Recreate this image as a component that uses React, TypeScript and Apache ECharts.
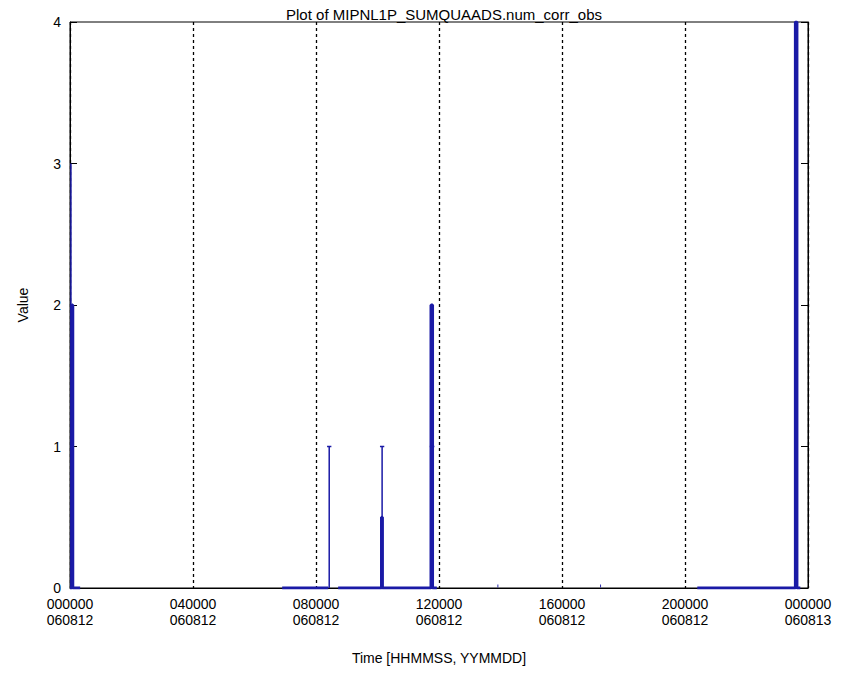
import React, { useEffect, useRef } from "react";
import * as echarts from "echarts";

// Time in hours since 000000 060812; null breaks the line
const thickTimes: (number | null)[] = [
  0.0, 0.06, 0.06, 0.09, 0.09, 0.33, null,
  6.9, 8.4, null,
  8.72, 10.13, 10.13, 10.16, 10.16, 11.74, 11.74, 11.79, 11.79, 11.93, null,
  13.9, 13.93, null,
  17.24, 17.27, null,
  20.4, 23.59, 23.59, 23.64, 23.64, 23.75,
];
const thickValues: (number | null)[] = [
  0, 0, 2, 2, 0, 0, null,
  0, 0, null,
  0, 0, 0.5, 0.5, 0, 0, 2, 2, 0, 0, null,
  0.015, 0.015, null,
  0.015, 0.015, null,
  0, 0, 4, 4, 0, 0,
];
const thinTimes: (number | null)[] = [
  0.03, 0.03, null,
  8.43, 8.43, null, 8.36, 8.5, null,
  10.15, 10.15, null, 10.08, 10.22, null,
  11.70, 11.85, null,
];
const thinValues: (number | null)[] = [
  0, 3, null,
  0, 1, null, 1, 1, null,
  0, 1, null, 1, 1, null,
  1, 1, null,
];
const xTickLabels = [
  "000000\n060812",
  "040000\n060812",
  "080000\n060812",
  "120000\n060812",
  "160000\n060812",
  "200000\n060812",
  "000000\n060813",
];
const yTicks = [0, 1, 2, 3, 4];

const FONT = "Liberation Sans";
const BLUE = "#1a1aa6";

function toData(ts: (number | null)[], vs: (number | null)[]) {
  return ts.map((t, i) => (t === null || vs[i] === null ? ["-", "-"] : [t, vs[i]]));
}

export default function App() {
  const ref = useRef<HTMLDivElement>(null);
  useEffect(() => {
    if (!ref.current) return;
    const chart = echarts.init(ref.current, undefined, { renderer: "svg" });
    const yAxisBase = {
      type: "value" as const,
      min: yTicks[0],
      max: yTicks[yTicks.length - 1],
      interval: 1,
      splitLine: { show: false },
      axisLine: { show: true, lineStyle: { color: "#000", width: 1 } },
      axisTick: { show: true, inside: true, length: 7, lineStyle: { color: "#000" } },
    };
    chart.setOption({
      animation: false,
      backgroundColor: "#fff",
      title: {
        text: "Plot of MIPNL1P_SUMQUAADS.num_corr_obs",
        left: 439,
        textAlign: "center",
        top: 2,
        textStyle: { fontFamily: FONT, fontSize: 15, fontWeight: "normal", color: "#000" },
      },
      grid: {
        left: 70,
        right: 49,
        top: 22,
        bottom: 87,
        show: true,
        borderColor: "#000",
        borderWidth: 1,
        backgroundColor: "transparent",
      },
      xAxis: {
        type: "value",
        min: 0,
        max: 24,
        interval: 4,
        name: "Time [HHMMSS, YYMMDD]",
        nameLocation: "middle",
        nameGap: 63,
        nameTextStyle: { fontFamily: FONT, fontSize: 14, color: "#000" },
        axisLine: { show: true, onZero: false, lineStyle: { color: "#000", width: 1 } },
        axisTick: { show: false },
        splitLine: { show: true, lineStyle: { color: "#000", width: 1.3, type: [3, 3] } },
        axisLabel: {
          fontFamily: FONT,
          fontSize: 14,
          lineHeight: 16,
          color: "#000",
          margin: 8,
          formatter: (v: number) => xTickLabels[Math.round(v / 4)] ?? "",
        },
      },
      yAxis: [
        {
          ...yAxisBase,
          position: "left",
          name: "Value",
          nameLocation: "middle",
          nameGap: 40,
          nameTextStyle: { fontFamily: FONT, fontSize: 14, color: "#000" },
          axisLabel: { fontFamily: FONT, fontSize: 14, color: "#000", margin: 9 },
        },
        {
          ...yAxisBase,
          position: "right",
          axisLabel: { show: false },
        },
      ],
      series: [
        {
          type: "line",
          data: toData(thickTimes, thickValues),
          showSymbol: false,
          connectNulls: false,
          lineStyle: { color: BLUE, width: 3 },
          itemStyle: { color: BLUE },
        },
        {
          type: "line",
          data: toData(thinTimes, thinValues),
          showSymbol: false,
          connectNulls: false,
          lineStyle: { color: BLUE, width: 1.5 },
          itemStyle: { color: BLUE },
        },
      ],
    });
    return () => chart.dispose();
  }, []);
  return (
    <div
      ref={ref}
      style={{ position: "fixed", left: 0, top: 0, width: 857, height: 675, background: "#fff" }}
    />
  );
}
